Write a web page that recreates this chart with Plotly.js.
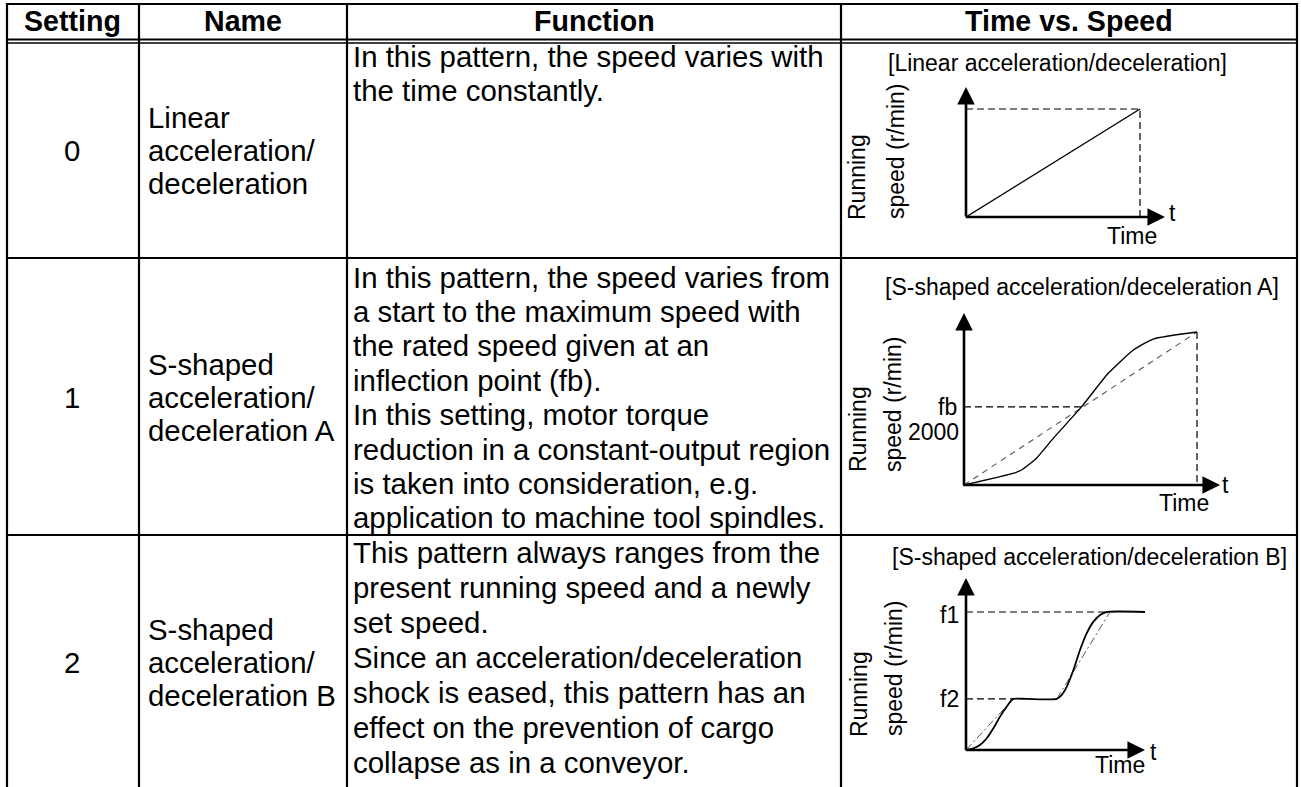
<!DOCTYPE html>
<html><head><meta charset="utf-8">
<script src="https://cdn.plot.ly/plotly-3.0.1.min.js"></script>
<style>html,body{margin:0;padding:0;background:#fff;overflow:hidden}#chart{width:1301px;height:787px}</style>
</head><body><div id="chart"></div>
<script>
// ---------------- content ----------------
const headers = ['Setting', 'Name', 'Function', 'Time vs. Speed'];
const settings = ['0', '1', '2'];
const names = [
  ['Linear', 'acceleration/', 'deceleration'],
  ['S-shaped', 'acceleration/', 'deceleration A'],
  ['S-shaped', 'acceleration/', 'deceleration B']
];
const functions = [
  ['In this pattern, the speed varies with', 'the time constantly.'],
  ['In this pattern, the speed varies from', 'a start to the maximum speed with', 'the rated speed given at an',
   'inflection point (fb).', 'In this setting, motor torque', 'reduction in a constant-output region',
   'is taken into consideration, e.g.', 'application to machine tool spindles.'],
  ['This pattern always ranges from the', 'present running speed and a newly', 'set speed.',
   'Since an acceleration/deceleration', 'shock is eased, this pattern has an',
   'effect on the prevention of cargo', 'collapse as in a conveyor.']
];
const chartTitles = ['[Linear acceleration/deceleration]', '[S-shaped acceleration/deceleration A]', '[S-shaped acceleration/deceleration B]'];
const yLabelTop = 'Running';
const yLabelBottom = 'speed (r/min)';
const xLabel = 'Time';
const xSymbol = 't';

// chart 0: linear
const linTime = [0, 1];
const linSpeed = [0, 1];

// chart 1: S-shaped A
const sATime  = [0, 0.21, 0.247, 0.311, 0.383, 0.505, 0.619, 0.727, 0.812, 1];
const sASpeed = [0, 0.076, 0.098, 0.175, 0.305, 0.512, 0.730, 0.882, 0.954, 1];
const fbLevel = 0.51;
const fbTime = 0.505;
const fbLabel = 'fb';
const fbValueLabel = '2000';

// chart 2: S-shaped B
const sBTime  = [0, 0.041, 0.078, 0.116, 0.153, 0.190, 0.227, 0.264, 0.339, 0.507, 0.535, 0.563, 0.600, 0.637, 0.674, 0.712, 0.749, 0.786, 1.0];
const sBSpeed = [0, 0.012, 0.036, 0.085, 0.157, 0.242, 0.314, 0.37, 0.37, 0.37, 0.399, 0.459, 0.580, 0.725, 0.845, 0.930, 0.978, 1.0, 1.0];
const f1Level = 1.0, f1Time = 0.786;
const f2Level = 0.37, f2Time = 0.264, f2LeaveTime = 0.507, f1RefTime = 0.804;
const f1Label = 'f1', f2Label = 'f2';

// ---------------- geometry (layout) ----------------
const W = 1301, H = 787;
const FONT = '"Liberation Sans", Arial, Helvetica, sans-serif';
const colLines = [7, 139, 347, 841, 1297];
const rowLines = [258, 535];
const topLine = 4;
const headY = 21;
const headCenters = [72, 243, 594, 1069];
const rowCenters = [150, 397, 662];
const nameStep = 33;
const funcStart = [56, 277, 552];
const funcStep = [34, 34.4, 35];
const bodySize = 29.4, headSize = 28.6, chartSize = 23;

const charts = [
  {ox: 966, oy: 217, ux: 174, uy: 108, tipX: 1165, tipY: 87,
   title: [1057, 63], run: [857, 177], spd: [896, 152], time: [1132, 236], t: [1172, 213]},
  {ox: 964, oy: 485, ux: 233, uy: 153, tipX: 1220, tipY: 313,
   title: [1082, 287], run: [858, 429], spd: [893, 405], time: [1184, 503], t: [1225, 485]},
  {ox: 966, oy: 750, ux: 179, uy: 138, tipX: 1145, tipY: 578,
   title: [1089, 557], run: [859, 694], spd: [894, 669], time: [1120, 765], t: [1153, 752]}
];

const layout = {
  width: W, height: H,
  margin: {l: 0, r: 0, t: 0, b: 0},
  paper_bgcolor: '#fff', plot_bgcolor: 'rgba(0,0,0,0)',
  showlegend: false,
  font: {family: FONT, color: '#000'},
  xaxis: {domain: [0, 1], range: [0, W], visible: false, fixedrange: true},
  yaxis: {domain: [0, 1], range: [H, 0], visible: false, fixedrange: true},
  shapes: [], annotations: []
};

// table lines
const lw = 2.2;
function hline(y, x0, x1, w) {
  layout.shapes.push({type: 'line', xref: 'x', yref: 'y', x0: x0, x1: x1, y0: y, y1: y, line: {color: '#000', width: w}});
}
function vline(x, y0, y1, w) {
  layout.shapes.push({type: 'line', xref: 'x', yref: 'y', x0: x, x1: x, y0: y0, y1: y1, line: {color: '#000', width: w}});
}
hline(topLine, colLines[0] - 1, colLines[4] + 1, lw);
hline(39.5, colLines[0], colLines[4], 2.2);
hline(43, colLines[0], colLines[4], 1.4);
rowLines.forEach(y => hline(y, colLines[0], colLines[4], lw));
colLines.forEach(x => vline(x, topLine, H + 2, lw));

function txt(text, x, y, opts) {
  layout.annotations.push(Object.assign({
    xref: 'x', yref: 'y', x: x, y: y, text: text, showarrow: false,
    xanchor: 'center', yanchor: 'middle', borderpad: 0,
    font: {family: FONT, size: bodySize, color: '#000'}
  }, opts || {}));
}

// header
headers.forEach((h, i) => txt('<b>' + h + '</b>', headCenters[i], headY, {font: {family: FONT, size: headSize, color: '#000'}}));

// rows
settings.forEach((s, r) => {
  txt(s, headCenters[0], rowCenters[r]);
  const n = names[r];
  n.forEach((line, k) => txt(line, 147, rowCenters[r] + (k - (n.length - 1) / 2) * nameStep, {xanchor: 'left'}));
  functions[r].forEach((line, k) => txt(line, 352, funcStart[r] + k * funcStep[r], {xanchor: 'left'}));
});

// charts
const traces = [];
charts.forEach((c, i) => {
  const n = i + 2;
  const xa = 'xaxis' + n, ya = 'yaxis' + n;
  const xMax = (c.tipX - c.ox) / c.ux, yMax = (c.oy - c.tipY) / c.uy;
  layout[xa] = {domain: [c.ox / W, c.tipX / W], range: [0, xMax], visible: false, fixedrange: true, anchor: 'y' + n};
  layout[ya] = {domain: [1 - c.oy / H, 1 - c.tipY / H], range: [0, yMax], visible: false, fixedrange: true, anchor: 'x' + n};
  c.xr = 'x' + n; c.yr = 'y' + n;
  // axes with arrows
  const arrowBase = {xref: c.xr, yref: c.yr, axref: c.xr, ayref: c.yr, text: '', showarrow: true,
    arrowhead: 2, arrowsize: 1.35, arrowwidth: 2.6, arrowcolor: '#000', standoff: 0, startstandoff: 0};
  layout.annotations.push(Object.assign({}, arrowBase, {x: 0, y: yMax, ax: 0, ay: -0.01}));
  layout.annotations.push(Object.assign({}, arrowBase, {x: xMax, y: 0, ax: -0.01, ay: 0}));
  // texts
  const cf = {family: FONT, size: chartSize, color: '#000'};
  txt(chartTitles[i], c.title[0], c.title[1], {font: cf});
  txt(yLabelTop, c.run[0], c.run[1], {font: cf, textangle: -90});
  txt(yLabelBottom, c.spd[0], c.spd[1], {font: cf, textangle: -90});
  txt(xLabel, c.time[0], c.time[1], {font: cf});
  txt(xSymbol, c.t[0], c.t[1], {font: cf});
});

const dashBlack = {color: '#000', width: 1.2, dash: '7px,4px'};
function tr(ci, x, y, line, extra) {
  traces.push(Object.assign({type: 'scatter', mode: 'lines', x: x, y: y, xaxis: charts[ci].xr, yaxis: charts[ci].yr,
    line: line, hoverinfo: 'skip', cliponaxis: false}, extra || {}));
}
// chart 0
tr(0, [linTime[0], linTime[1], linTime[1]], [linSpeed[1], linSpeed[1], linSpeed[0]], dashBlack);
tr(0, linTime, linSpeed, {color: '#000', width: 1.4});
// chart 1
tr(1, [0, 1], [0, 1], {color: '#555', width: 1.1, dash: '6px,5px'});
tr(1, [0, fbTime], [fbLevel, fbLevel], dashBlack);
tr(1, [1, 1], [sASpeed[sASpeed.length - 1], 0], dashBlack);
tr(1, sATime, sASpeed, {color: '#000', width: 1.4, shape: 'spline', smoothing: 0.5});
// chart 2
tr(2, [0, f1Time], [f1Level, f1Level], dashBlack);
tr(2, [0, f2Time], [f2Level, f2Level], dashBlack);
tr(2, [0, f2Time], [0, f2Level], {color: '#444', width: 0.9, dash: '8px,3px,2px,3px'});
tr(2, [f2LeaveTime, f1RefTime], [f2Level, f1Level], {color: '#444', width: 0.9, dash: '8px,3px,2px,3px'});
tr(2, sBTime, sBSpeed, {color: '#000', width: 1.8, shape: 'spline', smoothing: 0.6});

// level labels
const lf = {family: FONT, size: chartSize, color: '#000'};
function lvl(ci, text, y, xs, ys) {
  layout.annotations.push({xref: charts[ci].xr, yref: charts[ci].yr, x: 0, y: y, text: text, showarrow: false,
    xanchor: 'right', yanchor: 'middle', xshift: xs, yshift: ys, borderpad: 0, font: lf});
}
lvl(1, fbLabel, fbLevel, -6, 0);
lvl(1, fbValueLabel, fbLevel, -4, -25);
lvl(2, f1Label, f1Level, -6, -3);
lvl(2, f2Label, f2Level, -6, 0);

Plotly.newPlot('chart', traces, layout, {staticPlot: true, displayModeBar: false});
</script>
</body></html>
